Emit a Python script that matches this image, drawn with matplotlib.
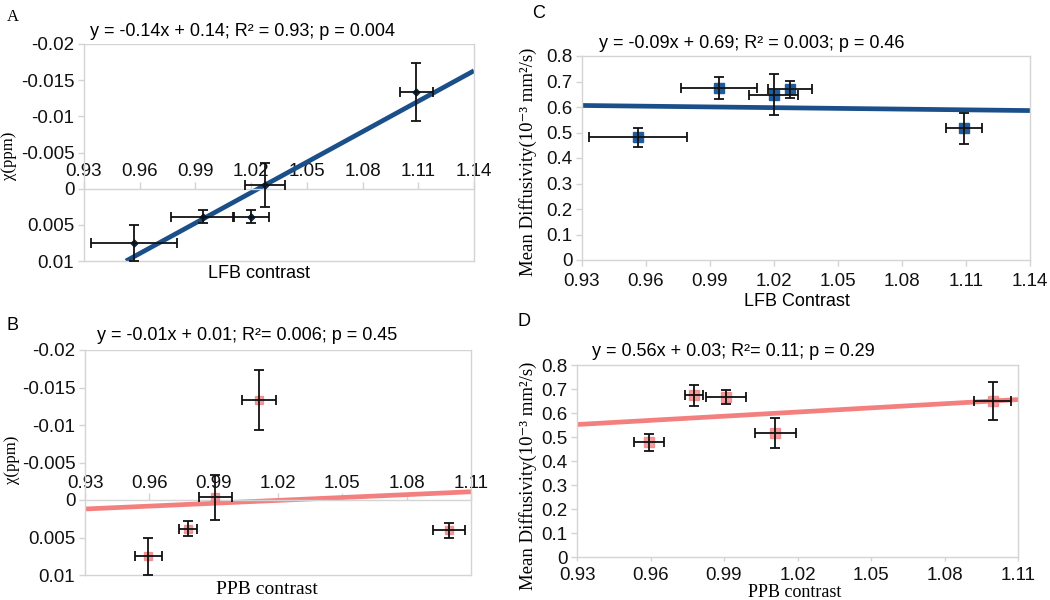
import matplotlib
matplotlib.use('Agg')
import matplotlib.pyplot as plt

plt.rcParams['font.family'] = ['Liberation Sans', 'DejaVu Sans']
SERIF = ['Liberation Serif', 'DejaVu Serif']

# ---- data ----
# A: chi vs LFB contrast
a_x = [0.957, 0.994, 1.020, 1.0275, 1.109]
a_xerr = [0.023, 0.017, 0.0097, 0.011, 0.009]
a_y = [0.0075, 0.0039, 0.0039, -0.0005, -0.0134]
a_yerr = [0.0025, 0.0009, 0.0009, 0.003, 0.004]
a_fit_x = [0.9526, 1.14]
a_fit_y = [0.010, -0.0163]

# B: chi vs PPB contrast
b_x = [0.9596, 0.978, 0.9908, 1.011, 1.0998]
b_xerr = [0.0064, 0.004, 0.0077, 0.008, 0.0075]
b_y = [0.0075, 0.0038, -0.0004, -0.0134, 0.004]
b_yerr = [0.0025, 0.001, 0.003, 0.004, 0.001]
b_fit_x = [0.93, 1.11]
b_fit_y = [0.0012, -0.0011]

# C: mean diffusivity vs LFB contrast
c_x = [0.9564, 0.9942, 1.0199, 1.0275, 1.109]
c_xerr = [0.023, 0.018, 0.0115, 0.0105, 0.0086]
c_y = [0.481, 0.676, 0.649, 0.669, 0.516]
c_yerr = [0.037, 0.043, 0.08, 0.033, 0.062]
c_fit_x = [0.93, 1.14]
c_fit_y = [0.606, 0.586]

# D: mean diffusivity vs PPB contrast
d_x = [0.9594, 0.9777, 0.9908, 1.011, 1.0996]
d_xerr = [0.006, 0.0037, 0.008, 0.0082, 0.0074]
d_y = [0.478, 0.674, 0.667, 0.516, 0.650]
d_yerr = [0.036, 0.043, 0.03, 0.063, 0.08]
d_fit_x = [0.93, 1.11]
d_fit_y = [0.552, 0.656]

lfb_ticks = [0.93, 0.96, 0.99, 1.02, 1.05, 1.08, 1.11, 1.14]
ppb_ticks = [0.93, 0.96, 0.99, 1.02, 1.05, 1.08, 1.11]
chi_ticks = [-0.02, -0.015, -0.01, -0.005, 0, 0.005, 0.01]
chi_labels = ['-0.02', '-0.015', '-0.01', '-0.005', '0', '0.005', '0.01']
md_ticks = [0, 0.1, 0.2, 0.3, 0.4, 0.5, 0.6, 0.7, 0.8]
md_labels = ['0', '0.1', '0.2', '0.3', '0.4', '0.5', '0.6', '0.7', '0.8']

titles = ['y = -0.14x + 0.14; R² = 0.93; p = 0.004',
          'y = -0.01x + 0.01; R²= 0.006; p = 0.45',
          'y = -0.09x + 0.69; R² = 0.003; p = 0.46',
          'y = 0.56x + 0.03; R²= 0.11; p = 0.29']

BLUE = '#1b4f8a'
RED = '#f47f7f'
GRID = '#d4d4d4'
W, H = 1050, 600

fig = plt.figure(figsize=(10.5, 6), dpi=100)


def rect(l, t, r, b):
    return [l / W, 1 - b / H, (r - l) / W, (b - t) / H]


def ftext(x, y, s, **kw):
    fig.text(x / W, 1 - y / H, s, **kw)


def frame(ax):
    for sp in ax.spines.values():
        sp.set_color(GRID)
        sp.set_linewidth(1)
    ax.tick_params(colors=GRID, labelcolor='#111111', labelsize=13.5,
                   length=4, width=1, pad=3)


def points(ax, x, y, xerr, yerr, marker, color, ms, alpha=1.0):
    ax.plot(x, y, ls='none', marker=marker, color=color, ms=ms,
            alpha=alpha, zorder=3)
    ax.errorbar(x, y, xerr=xerr, yerr=yerr, fmt='none', ecolor='#111111',
                elinewidth=1.3, capsize=3.5, capthick=1.3, zorder=4)


def chi_axes(ax, xt):
    frame(ax)
    ax.set_xlim(0.93, xt[-1])
    ax.set_ylim(0.01, -0.02)
    ax.set_yticks(chi_ticks)
    ax.set_yticklabels(chi_labels)
    # x axis sits on the zero line, labels above it
    ax.xaxis.tick_top()
    ax.spines['top'].set_position(('data', 0))
    ax.set_xticks(xt)
    ax.set_xticklabels(['%.2f' % v for v in xt])
    ax.tick_params(axis='x', length=5, pad=1)
    ax.axhline(-0.02, color=GRID, lw=1, zorder=0)


def md_axes(ax, xt, xpad, xlen=4):
    frame(ax)
    ax.set_xlim(0.93, xt[-1])
    ax.set_ylim(0, 0.8)
    ax.set_yticks(md_ticks)
    ax.set_yticklabels(md_labels)
    ax.set_xticks(xt)
    ax.set_xticklabels(['%.2f' % v for v in xt])
    ax.tick_params(axis='x', pad=xpad, length=xlen)


# A
ax = fig.add_axes(rect(84, 44, 474, 261))
chi_axes(ax, lfb_ticks)
ax.plot(a_fit_x, a_fit_y, color=BLUE, lw=3.4, solid_capstyle='butt', zorder=2)
points(ax, a_x, a_y, a_xerr, a_yerr, 'D', '#0d2747', 3.5)
ftext(13, 17, 'A', family=SERIF, fontsize=12, va='center', ha='center')
ftext(90, 31, titles[0], fontsize=13, va='center')
ftext(9, 156, 'χ(ppm)', family=SERIF, fontsize=12, rotation=90,
      va='center', ha='center')
ftext(259, 273, 'LFB contrast', fontsize=13, va='center', ha='center')

# B
ax = fig.add_axes(rect(85, 350, 471, 575))
chi_axes(ax, ppb_ticks)
ax.plot(b_fit_x, b_fit_y, color=RED, lw=3.4, solid_capstyle='butt', zorder=2)
points(ax, b_x, b_y, b_xerr, b_yerr, 's', '#f07c7c', 6, alpha=0.75)
ftext(13, 326, 'B', fontsize=13, va='center', ha='center')
ftext(97, 335, titles[1], fontsize=13, va='center')
ftext(12, 460, 'χ(ppm)', family=SERIF, fontsize=12, rotation=90,
      va='center', ha='center')
ftext(267, 590, 'PPB contrast', family=SERIF, fontsize=14,
      va='center', ha='center')

# C
ax = fig.add_axes(rect(582, 56, 1030, 260))
md_axes(ax, lfb_ticks, 5)
ax.plot(c_fit_x, c_fit_y, color=BLUE, lw=3.4, solid_capstyle='butt', zorder=2)
points(ax, c_x, c_y, c_xerr, c_yerr, 's', '#1e5c9e', 7)
ftext(539, 14, 'C', fontsize=13, va='center', ha='center')
ftext(599, 43, titles[2], fontsize=13, va='center')
ftext(528, 162, 'Mean Diffusivity(10⁻³ mm²/s)', family=SERIF, fontsize=13.5,
      rotation=90, va='center', ha='center')
ftext(797, 301, 'LFB Contrast', fontsize=13, va='center', ha='center')

# D
ax = fig.add_axes(rect(577, 365, 1018, 557))
md_axes(ax, ppb_ticks, 4.5, 3)
ax.plot(d_fit_x, d_fit_y, color=RED, lw=3.4, solid_capstyle='butt', zorder=2)
points(ax, d_x, d_y, d_xerr, d_yerr, 's', '#f07c7c', 7, alpha=0.75)
ftext(524, 322, 'D', fontsize=13, va='center', ha='center')
ftext(592, 351, titles[3], fontsize=13, va='center')
ftext(528, 476, 'Mean Diffusivity(10⁻³ mm²/s)', family=SERIF, fontsize=13.5,
      rotation=90, va='center', ha='center')
ftext(795, 601, 'PPB contrast', family=SERIF, fontsize=13,
      va='bottom', ha='center')

fig.savefig('out.png', dpi=100)
